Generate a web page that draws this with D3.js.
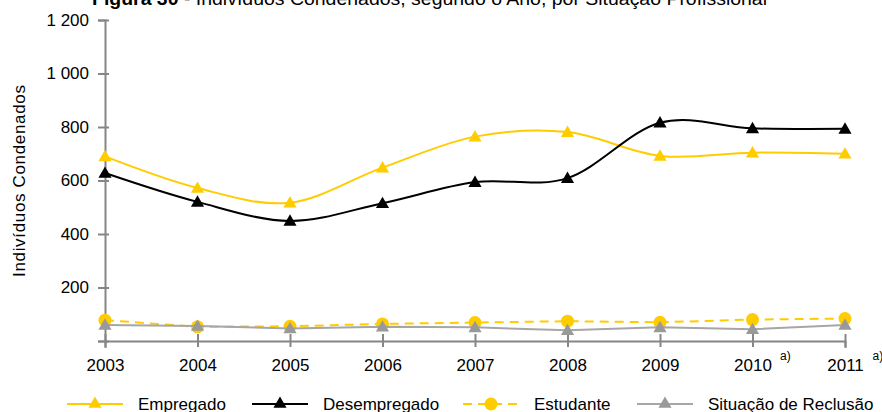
<!DOCTYPE html>
<html>
<head>
<meta charset="utf-8">
<script src="https://cdn.jsdelivr.net/npm/d3@7"></script>
<style>
  body { margin: 0; background: #fff; }
  svg { font-family: "Liberation Sans", Arial, sans-serif; }
</style>
</head>
<body>
<div id="wrapper"></div>
<script>
// data
const years = ["2003", "2004", "2005", "2006", "2007", "2008", "2009", "2010", "2011"];
const empregado = [690, 572, 517, 648, 764, 781, 692, 704, 700];
const desempregado = [628, 520, 449, 515, 594, 609, 816, 795, 793];
const estudante = [78, 53, 55, 64, 69, 74, 70, 80, 84];
const reclusao = [60, 56, 47, 53, 51, 40, 51, 44, 60];
const yTicks = [0, 200, 400, 600, 800, 1000, 1200];
const footnoteYears = ["2010", "2011"];

function drawChart() {
    const dimentions = {
        width: 882,
        height: 412,
        margin: { top: 20, right: 37, bottom: 71, left: 105 }
    };
    dimentions.boundedWidth = dimentions.width - dimentions.margin.left - dimentions.margin.right;
    dimentions.boundedHeight = dimentions.height - dimentions.margin.top - dimentions.margin.bottom;

    const wrapper = d3.select("#wrapper")
        .append("svg")
        .attr("width", dimentions.width)
        .attr("height", dimentions.height);

    const bounds = wrapper.append("g")
        .attr("transform", `translate(${dimentions.margin.left},${dimentions.margin.top})`);

    const xScale = d3.scalePoint()
        .domain(years)
        .range([0, dimentions.boundedWidth]);

    const yScale = d3.scaleLinear()
        .domain([0, 1200])
        .range([dimentions.boundedHeight, 0]);

    const axisColor = "#868686";
    const fmt = d => d === 0 ? "" : d3.format(",")(d).replace(/,/g, " ");

    // y axis
    const yAxis = bounds.append("g")
        .call(d3.axisLeft(yScale).tickValues(yTicks).tickFormat(fmt).tickSizeOuter(0).tickSize(7).tickPadding(9));
    yAxis.selectAll(".tick line").attr("x1", 4).attr("x2", -7);

    // x axis
    const xAxis = bounds.append("g")
        .attr("transform", `translate(0,${dimentions.boundedHeight})`)
        .call(d3.axisBottom(xScale).tickSizeOuter(0).tickSize(7).tickPadding(11));
    xAxis.selectAll(".tick line").attr("y1", -7).attr("y2", 6);

    [xAxis, yAxis].forEach(ax => {
        ax.selectAll(".domain").attr("stroke", axisColor).attr("stroke-width", 2);
        ax.selectAll(".tick line").attr("stroke", axisColor).attr("stroke-width", 2);
        ax.selectAll("text").attr("fill", "#000").style("font-size", "17px");
    });

    // footnote markers
    xAxis.selectAll(".tick")
        .filter(d => footnoteYears.includes(d))
        .append("text")
        .attr("x", 27)
        .attr("y", 19)
        .attr("fill", "#000")
        .style("font-size", "12px")
        .attr("text-anchor", "start")
        .text("a)");

    const series = [
        { name: "Empregado", values: empregado, color: "#FFCC00", marker: "triangle", dash: null, curve: d3.curveCatmullRom.alpha(0), width: 2, mColor: "#FFCC00" },
        { name: "Desempregado", values: desempregado, color: "#000000", marker: "triangle", dash: null, curve: d3.curveCatmullRom.alpha(0), width: 2, mColor: "#000000" },
        { name: "Estudante", values: estudante, color: "#FFCC00", marker: "circle", dash: "9,6", curve: d3.curveLinear, width: 2, mColor: "#FFCC00" },
        { name: "Situação de Reclusão", values: reclusao, color: "#A6A6A6", marker: "triangle", dash: null, curve: d3.curveLinear, width: 2, mColor: "#999999" }
    ];

    const triangle = d3.symbol().type(d3.symbolTriangle).size(75);

    series.forEach(s => {
        const lineGen = d3.line()
            .x((d, i) => xScale(years[i]))
            .y(d => yScale(d))
            .curve(s.curve);

        bounds.append("path")
            .datum(s.values)
            .attr("d", lineGen)
            .attr("fill", "none")
            .attr("stroke", s.color)
            .attr("stroke-width", s.width)
            .attr("stroke-dasharray", s.dash);

        const marks = bounds.append("g").selectAll("path")
            .data(s.values)
            .enter();
        if (s.marker === "circle") {
            marks.append("circle")
                .attr("cx", (d, i) => xScale(years[i]))
                .attr("cy", d => yScale(d))
                .attr("r", 6.5)
                .attr("fill", s.mColor);
        } else {
            marks.append("path")
                .attr("d", triangle)
                .attr("transform", (d, i) => `translate(${xScale(years[i])},${yScale(d) + 1})`)
                .attr("fill", s.mColor);
        }
    });

    // y label
    wrapper.append("text")
        .attr("transform", "translate(25,181) rotate(-90)")
        .attr("text-anchor", "middle")
        .attr("textLength", 192)
        .attr("lengthAdjust", "spacing")
        .style("font-size", "17px")
        .text("Indivíduos Condenados");

    // title (clipped at the top, like the source)
    const title = wrapper.append("text")
        .attr("x", 92)
        .attr("y", 5)
        .attr("textLength", 675)
        .attr("lengthAdjust", "spacingAndGlyphs")
        .style("font-size", "18px");
    title.append("tspan").style("font-weight", "bold").text("Figura 30");
    title.append("tspan").text(" - Indivíduos Condenados, segundo o Ano, por Situação Profissional");

    // legend
    const legendX = [67, 252, 463, 637];
    const legend = wrapper.append("g").attr("transform", "translate(0,404)");
    series.forEach((s, i) => {
        const g = legend.append("g").attr("transform", `translate(${legendX[i]},0)`);
        g.append("line")
            .attr("x1", 0).attr("x2", 56)
            .attr("stroke", s.color)
            .attr("stroke-width", s.width)
            .attr("stroke-dasharray", s.dash);
        if (s.marker === "circle") {
            g.append("circle").attr("cx", 28).attr("r", 6.5).attr("fill", s.mColor);
        } else {
            g.append("path").attr("d", triangle).attr("transform", "translate(28,0)").attr("fill", s.mColor);
        }
        g.append("text")
            .attr("x", 71)
            .attr("dy", "0.35em")
            .style("font-size", "17px")
            .text(s.name);
    });
}

drawChart();
</script>
</body>
</html>
